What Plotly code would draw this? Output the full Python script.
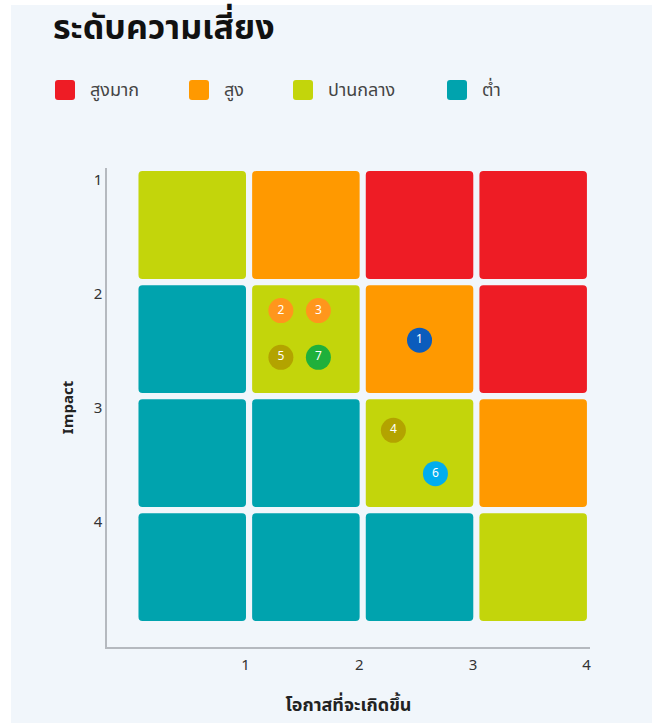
import plotly.graph_objects as go

# ---------------- data ----------------
title_text = "ระดับความเสี่ยง"
x_title = "โอกาสที่จะเกิดขึ้น"
y_title = "Impact"

levels = ["สูงมาก", "สูง", "ปานกลาง", "ต่ำ"]
level_colors = ["#EE1C25", "#FF9900", "#C3D50B", "#00A3AE"]

likelihood = [1, 2, 3, 4]   # columns (x)
impact = [1, 2, 3, 4]       # rows (y, top to bottom)

risk_matrix = [
    ["ปานกลาง", "สูง", "สูงมาก", "สูงมาก"],
    ["ต่ำ", "ปานกลาง", "สูง", "สูงมาก"],
    ["ต่ำ", "ต่ำ", "ปานกลาง", "สูง"],
    ["ต่ำ", "ต่ำ", "ต่ำ", "ปานกลาง"],
]

risk_ids = ["1", "2", "3", "4", "5", "6", "7"]
risk_x = [2.50, 1.28, 1.61, 2.27, 1.28, 2.64, 1.61]
risk_y = [1.51, 1.25, 1.25, 2.30, 1.66, 2.68, 1.66]
risk_colors = ["#0B5CBD", "#FF961C", "#FF961C", "#B3A300", "#B3A300", "#00ADEE", "#1FB03B"]

# ---------------- layout constants ----------------
W, H = 652, 723
L, R, T, B = 107, 62, 168, 76
PW, PH = W - L - R, H - T - B
BG = "#F1F6FB"
FONT = "Noto Sans Thai, Noto Sans, Sarabun, sans-serif"
color_of = dict(zip(levels, level_colors))


def px_x(px):
    return (px - L) / PW


def px_y(py):
    return (H - B - py) / PH


def rounded_path(x0, y0, x1, y1, rx, ry):
    return (f"M {x0+rx},{y0} L {x1-rx},{y0} Q {x1},{y0} {x1},{y0+ry} "
            f"L {x1},{y1-ry} Q {x1},{y1} {x1-rx},{y1} L {x0+rx},{y1} "
            f"Q {x0},{y1} {x0},{y1-ry} L {x0},{y0+ry} Q {x0},{y0} {x0+rx},{y0} Z")


shapes = [dict(type="rect", xref="paper", yref="paper",
               x0=px_x(11), x1=px_x(W), y0=px_y(H), y1=px_y(5),
               fillcolor=BG, line=dict(width=0), layer="below")]

gap = 0.027
rad = 0.035
for i, imp in enumerate(impact):
    for j, lk in enumerate(likelihood):
        lvl = risk_matrix[i][j]
        shapes.append(dict(
            type="path", xref="x", yref="y",
            path=rounded_path(lk - 1 + gap, imp - 1 + gap, lk - gap, imp - gap, rad, rad),
            fillcolor=color_of[lvl], line=dict(width=0), layer="below"))

# manual legend
legend_px = [55, 189, 293, 447]
annotations = []
for lx, lvl, col in zip(legend_px, levels, level_colors):
    x0, x1 = px_x(lx), px_x(lx + 20)
    y0, y1 = px_y(100), px_y(80)
    shapes.append(dict(type="path", xref="paper", yref="paper",
                       path=rounded_path(x0, y0, x1, y1, 3 / PW, 3 / PH),
                       fillcolor=col, line=dict(width=0)))
    annotations.append(dict(xref="paper", yref="paper", x=px_x(lx + 33), y=px_y(91),
                            text=lvl, showarrow=False, xanchor="left", yanchor="middle",
                            font=dict(size=18, color="#444444", family=FONT)))

fig = go.Figure()
fig.add_trace(go.Scatter(
    x=risk_x, y=risk_y, mode="markers+text", text=risk_ids,
    textposition="middle center",
    textfont=dict(color="white", size=12, family=FONT),
    marker=dict(size=25, color=risk_colors, line=dict(width=0)),
    hoverinfo="skip", showlegend=False))

fig.update_layout(
    width=W, height=H,
    margin=dict(l=L, r=R, t=T, b=B),
    paper_bgcolor="white", plot_bgcolor="rgba(0,0,0,0)",
    font=dict(family=FONT, color="#333333"),
    shapes=shapes, annotations=annotations, showlegend=False,
    title=dict(text=title_text, x=53 / W, xanchor="left", xref="container",
               y=1 - 27 / H, yanchor="middle", yref="container",
               font=dict(size=34, color="#111111", family=FONT, weight="bold")),
    xaxis=dict(range=[-0.25, 4.0], showgrid=False, zeroline=False,
               showline=True, linecolor="#B5B9BF", linewidth=1.5,
               tickvals=[v - 0.03 for v in likelihood], ticktext=[str(v) for v in likelihood],
               tickfont=dict(size=15, color="#333333"), ticks="", automargin=False,
               ticklabelstandoff=3,
               title=dict(text=x_title, standoff=23,
                          font=dict(size=18, color="#222222", weight="bold"))),
    yaxis=dict(range=[4.2, 0.0], showgrid=False, zeroline=False,
               showline=True, linecolor="#B5B9BF", linewidth=1.5,
               tickvals=[v - 0.9 for v in impact], ticktext=[str(v) for v in impact],
               tickfont=dict(size=15, color="#333333"), ticks="", automargin=False,
               title=dict(text=y_title, standoff=16,
                          font=dict(size=15, color="#222222", weight="bold"))),
)

fig.write_html("out.html", config={"displayModeBar": False},
               post_script="document.body.style.margin='0px';")
